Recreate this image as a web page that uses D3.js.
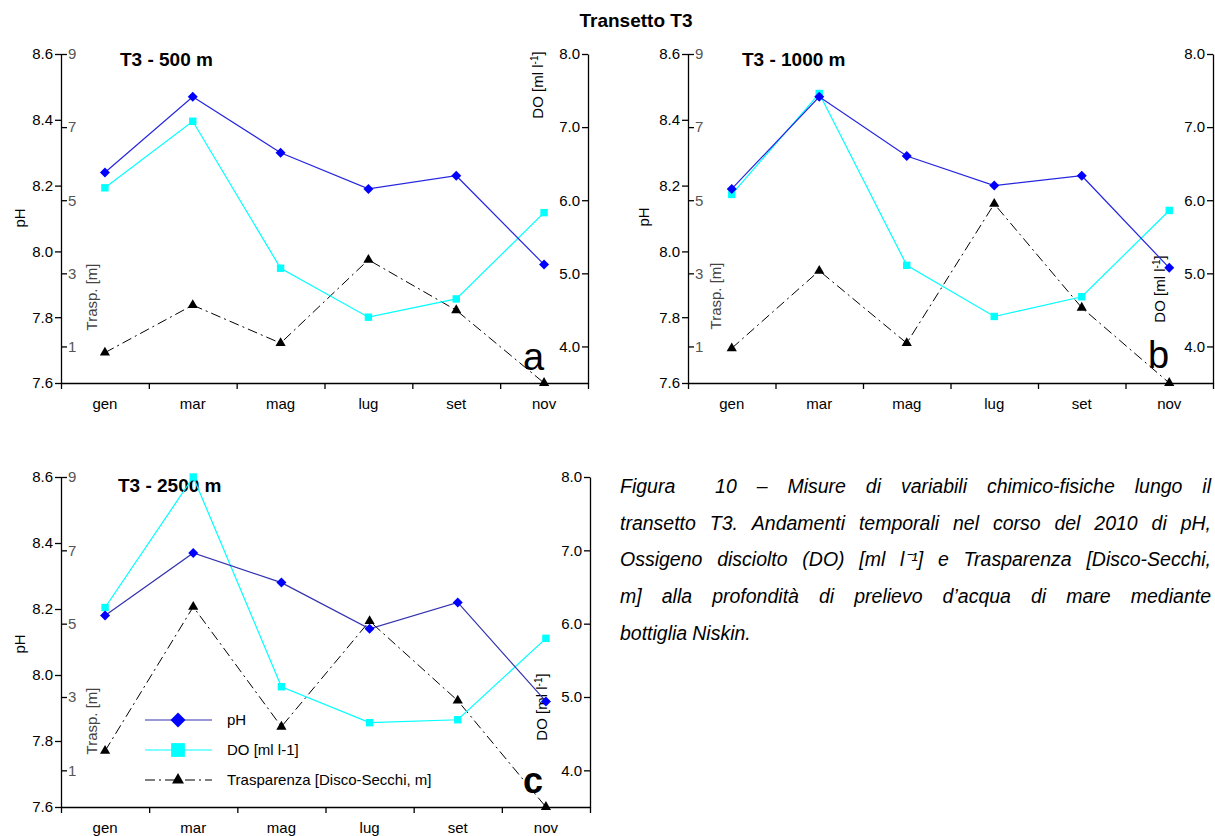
<!DOCTYPE html>
<html>
<head>
<meta charset="utf-8">
<script src="https://cdn.jsdelivr.net/npm/d3@7"></script>
<style>
  body { margin: 0; background: #fff; overflow: hidden; }
  svg text { font-family: "Liberation Sans Narrow", "Arial Narrow", "Liberation Sans", sans-serif; }
</style>
</head>
<body>
<svg id="chart"></svg>
<script>
// months on the x axis
const MONTHS = ["gen", "mar", "mag", "lug", "set", "nov"];

// T3 - 500 m
const PH_500 = [8.24, 8.47, 8.30, 8.19, 8.23, 7.96];
const DO_500 = [6.17, 7.08, 5.07, 4.40, 4.65, 5.83];
const TR_500 = [0.83, 2.13, 1.09, 3.37, 1.99, 0.0];

// T3 - 1000 m
const PH_1000 = [8.19, 8.47, 8.29, 8.20, 8.23, 7.95];
const DO_1000 = [6.08, 7.46, 5.11, 4.41, 4.68, 5.86];
const TR_1000 = [0.95, 3.07, 1.09, 4.90, 2.06, 0.0];

// T3 - 2500 m
const PH_2500 = [8.18, 8.37, 8.28, 8.14, 8.22, 7.92];
const DO_2500 = [6.22, 8.00, 5.14, 4.65, 4.69, 5.80];
const TR_2500 = [1.53, 5.46, 2.19, 5.07, 2.90, 0.0];

const PH_TICKS = [7.6, 7.8, 8.0, 8.2, 8.4, 8.6];
const TR_TICKS = [1, 3, 5, 7, 9];
const DO_TICKS = [4.0, 5.0, 6.0, 7.0, 8.0];

const LEGEND_LABELS = ["pH", "DO [ml l-1]", "Trasparenza [Disco-Secchi, m]"];

const CAPTION = [
  "Figura  10 – Misure di variabili chimico-fisiche lungo il",
  "transetto T3. Andamenti temporali nel corso del 2010 di pH,",
  "Ossigeno disciolto (DO) [ml l⁻¹] e Trasparenza [Disco-Secchi,",
  "m] alla profondità di prelievo d’acqua di mare mediante",
  "bottiglia Niskin."
];

const WIDTH = 1215;
const HEIGHT = 836;

const PH_COLOR = "#0000ff";
const DO_COLOR = "#00ffff";
const TR_COLOR = "#000000";
const DASH_DOT = "10,4,2,4";

const svg = d3.select("#chart").attr("width", WIDTH).attr("height", HEIGHT);

svg.append("text")
  .attr("x", 636).attr("y", 27)
  .attr("text-anchor", "middle")
  .style("font-size", "19px").style("font-weight", "bold")
  .text("Transetto T3");

const panels = [
  { title: "T3 - 500 m", letter: "a", ph: PH_500, dox: DO_500, tr: TR_500,
    left: 61, right: 588, top: 54, bottom: 383,
    titleX: 120, titleY: 66, letterX: 523, letterY: 370,
    phLab: [25, 218], trLab: [97, 297], doLab: [543, 85], phLine: "#2626e0" },
  { title: "T3 - 1000 m", letter: "b", ph: PH_1000, dox: DO_1000, tr: TR_1000,
    left: 688, right: 1213, top: 54, bottom: 383,
    titleX: 742, titleY: 66, letterX: 1148, letterY: 368,
    phLab: [649, 217], trLab: [721, 296], doLab: [1165, 289], phLine: "#2626e0" },
  { title: "T3 - 2500 m", letter: "c", ph: PH_2500, dox: DO_2500, tr: TR_2500,
    left: 61, right: 590, top: 477, bottom: 807,
    titleX: 118, titleY: 492, letterX: 523, letterY: 793,
    phLab: [25, 644], trLab: [97, 721], doLab: [547, 707], phLine: "#3333b0",
    legend: true, letterBold: true }
];

function diamond(size) {
  return d3.symbol(d3.symbolSquare, size)();
}

function drawPanel(p) {
  const g = svg.append("g");

  const x = d3.scaleBand().domain(MONTHS).range([p.left, p.right]);
  const xEdge = d3.scaleLinear().domain([0, MONTHS.length]).range([p.left, p.right]);
  const yPh = d3.scaleLinear().domain([7.6, 8.6]).range([p.bottom, p.top]);
  const yTr = d3.scaleLinear().domain([0, 9]).range([p.bottom, p.top]);
  const yDo = d3.scaleLinear().domain([3.5, 8.0]).range([p.bottom, p.top]);
  const cx = (i) => x(MONTHS[i]) + x.bandwidth() / 2;

  // axes
  g.append("g")
    .attr("transform", `translate(${p.left},0)`)
    .call(d3.axisLeft(yPh).tickValues(PH_TICKS).tickFormat(d3.format(".1f"))
      .tickSize(6).tickSizeOuter(0).tickPadding(2));

  const trAxis = g.append("g")
    .attr("transform", `translate(${p.left},0)`)
    .call(d3.axisRight(yTr).tickValues(TR_TICKS).tickSize(6).tickPadding(1));
  trAxis.select(".domain").remove();
  trAxis.selectAll("text").attr("fill", "#555");

  g.append("g")
    .attr("transform", `translate(${p.right},0)`)
    .call(d3.axisLeft(yDo).tickValues(DO_TICKS).tickFormat(d3.format(".1f"))
      .tickSize(6).tickSizeOuter(0).tickPadding(2));

  g.append("g")
    .attr("transform", `translate(0,${p.bottom})`)
    .call(d3.axisBottom(xEdge).tickValues(d3.range(MONTHS.length + 1))
      .tickFormat("").tickSize(6).tickSizeOuter(0));

  const monthAxis = g.append("g")
    .attr("transform", `translate(0,${p.bottom})`)
    .call(d3.axisBottom(x).tickSize(0).tickPadding(15));
  monthAxis.select(".domain").remove();

  g.selectAll(".tick text").style("font-size", "15px");
  g.selectAll(".domain, .tick line").attr("stroke", "#000").attr("stroke-width", 1.3);

  // axis titles
  g.append("text")
    .attr("transform", `translate(${p.phLab[0]},${p.phLab[1]}) rotate(-90)`)
    .attr("text-anchor", "middle").style("font-size", "15px")
    .text("pH");
  g.append("text")
    .attr("transform", `translate(${p.trLab[0]},${p.trLab[1]}) rotate(-90)`)
    .attr("text-anchor", "middle").style("font-size", "15px").attr("fill", "#444")
    .text("Trasp. [m]");
  const doT = g.append("text")
    .attr("transform", `translate(${p.doLab[0]},${p.doLab[1]}) rotate(-90)`)
    .attr("text-anchor", "middle").style("font-size", "15px");
  doT.append("tspan").text("DO [ml l");
  doT.append("tspan").attr("dy", -5).style("font-size", "10px").text("-1");
  doT.append("tspan").attr("dy", 5).text("]");

  // panel title and letter
  g.append("text")
    .attr("x", p.titleX).attr("y", p.titleY)
    .style("font-size", "19px").style("font-weight", "bold")
    .text(p.title);
  g.append("text")
    .attr("x", p.letterX).attr("y", p.letterY)
    .style("font-size", p.letterBold ? "36px" : "38px")
    .style("font-weight", p.letterBold ? "bold" : "normal")
    .text(p.letter);

  // lines
  const trLine = d3.line().x((d, i) => cx(i)).y((d) => yTr(d));
  const doLine = d3.line().x((d, i) => cx(i)).y((d) => yDo(d));
  const phLine = d3.line().x((d, i) => cx(i)).y((d) => yPh(d));

  g.append("path").datum(p.tr)
    .attr("d", trLine).attr("fill", "none")
    .attr("stroke", TR_COLOR).attr("stroke-width", 1).attr("stroke-dasharray", DASH_DOT);
  g.append("path").datum(p.dox)
    .attr("d", doLine).attr("fill", "none")
    .attr("stroke", DO_COLOR).attr("stroke-width", 1.2);
  g.append("path").datum(p.ph)
    .attr("d", phLine).attr("fill", "none")
    .attr("stroke", p.phLine).attr("stroke-width", 1.2);

  // markers
  g.selectAll(".tr-mark").data(p.tr).join("path")
    .attr("class", "tr-mark")
    .attr("d", d3.symbol(d3.symbolTriangle, 45))
    .attr("transform", (d, i) => `translate(${cx(i)},${yTr(d)})`)
    .attr("fill", TR_COLOR);
  g.selectAll(".do-mark").data(p.dox).join("path")
    .attr("class", "do-mark")
    .attr("d", d3.symbol(d3.symbolSquare, 55))
    .attr("transform", (d, i) => `translate(${cx(i)},${yDo(d)})`)
    .attr("fill", DO_COLOR);
  g.selectAll(".ph-mark").data(p.ph).join("path")
    .attr("class", "ph-mark")
    .attr("d", diamond(50))
    .attr("transform", (d, i) => `translate(${cx(i)},${yPh(d)}) rotate(45)`)
    .attr("fill", PH_COLOR);

  if (p.legend) drawLegend(g);
}

function drawLegend(g) {
  const rows = [
    { label: LEGEND_LABELS[0], color: PH_COLOR, line: "#3333b0", dash: null, sym: diamond(112), rot: 45 },
    { label: LEGEND_LABELS[1], color: DO_COLOR, line: DO_COLOR, dash: null, sym: d3.symbol(d3.symbolSquare, 190)(), rot: 0 },
    { label: LEGEND_LABELS[2], color: TR_COLOR, line: TR_COLOR, dash: DASH_DOT, sym: d3.symbol(d3.symbolTriangle, 62)(), rot: 0 }
  ];
  const lg = g.append("g").attr("class", "legend");
  const item = lg.selectAll("g").data(rows).join("g")
    .attr("transform", (d, i) => `translate(145,${720 + i * 30})`);
  item.append("line")
    .attr("x1", 0).attr("x2", 67)
    .attr("stroke", (d) => d.line).attr("stroke-width", 1.2)
    .attr("stroke-dasharray", (d) => d.dash);
  item.append("path")
    .attr("d", (d) => d.sym)
    .attr("transform", (d) => `translate(33,0) rotate(${d.rot})`)
    .attr("fill", (d) => d.color);
  item.append("text")
    .attr("x", 82).attr("dy", "0.35em")
    .style("font-size", "15px")
    .text((d) => d.label);
}

panels.forEach(drawPanel);

// caption, justified word by word
const CAP_LEFT = 620;
const CAP_RIGHT = 1211;
const capG = svg.append("g");
CAPTION.forEach((line, i) => {
  const words = line.split(" ");
  const y = 493 + i * 36.7;
  const nodes = words.map((w) =>
    capG.append("text").attr("y", y).style("font-size", "19.5px").style("font-style", "italic").text(w));
  const widths = nodes.map((n) => n.node().getComputedTextLength());
  const last = i === CAPTION.length - 1;
  const gap = last ? 5 : (CAP_RIGHT - CAP_LEFT - d3.sum(widths)) / (words.length - 1);
  let xPos = CAP_LEFT;
  nodes.forEach((n, j) => {
    n.attr("x", xPos);
    xPos += widths[j] + gap;
  });
});
</script>
</body>
</html>
